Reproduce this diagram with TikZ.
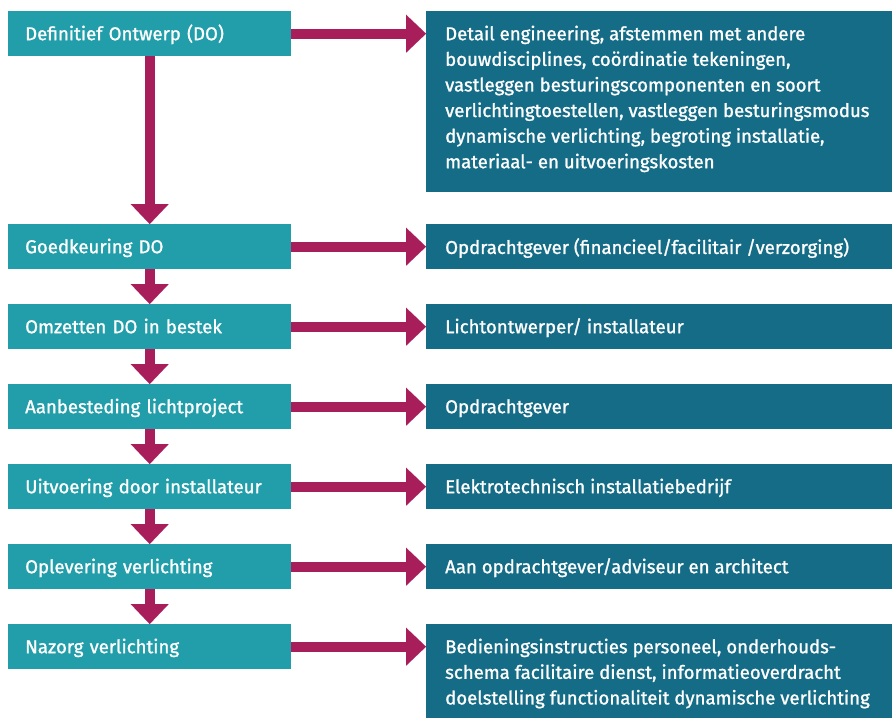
\documentclass[tikz,border=0pt]{standalone}
\usepackage{fontspec}
\setmainfont{Fira Sans}
\newfontfamily\medfont{Fira Sans}[FakeBold=1.2]
\usetikzlibrary{arrows.meta,calc}
\definecolor{lteal}{RGB}{33,158,169}
\definecolor{dteal}{RGB}{20,108,134}
\definecolor{magarrow}{RGB}{168,30,90}
\newcommand{\fsz}{\medfont\fontsize{18.6pt}{25.6pt}\selectfont}
\newcommand{\firstl}{\rule{0pt}{15pt}}
\tikzset{
  lbox/.style={fill=lteal, text=white, anchor=north west, minimum height=45pt,
    text width=249pt, inner xsep=17pt, inner ysep=0pt, text height=13pt, text depth=0pt,
    align=left, font=\fsz},
  rbox/.style={fill=dteal, anchor=north west, minimum width=466pt, inner sep=0pt},
  rtext/.style={text=white, anchor=north west, inner sep=0pt, align=left, font=\fsz},
  flowarrow/.style={draw=magarrow, line width=10pt,
    -{Triangle[width=38pt,length=20pt,line width=0.01pt,color=magarrow,fill=magarrow]}}
}
\begin{document}
\begin{tikzpicture}[x=1pt,y=-1pt]
\useasboundingbox (0,0) rectangle (892,718);
% left boxes
\node[lbox] (l1) at (8,11) {Definitief Ontwerp (DO)};
\node[lbox] (l2) at (8,224) {Goedkeuring DO};
\node[lbox] (l3) at (8,304) {Omzetten DO in bestek};
\node[lbox] (l4) at (8,384) {Aanbesteding lichtproject};
\node[lbox] (l5) at (8,464) {Uitvoering door installateur};
\node[lbox] (l6) at (8,544) {Oplevering verlichting};
\node[lbox] (l7) at (8,624) {Nazorg verlichting};
% right boxes
\node[rbox, minimum height=181pt] (r1) at (426,11) {};
\node[rbox, minimum height=45pt] (r2) at (426,224) {};
\node[rbox, minimum height=45pt] (r3) at (426,304) {};
\node[rbox, minimum height=45pt] (r4) at (426,384) {};
\node[rbox, minimum height=45pt] (r5) at (426,464) {};
\node[rbox, minimum height=45pt] (r6) at (426,544) {};
\node[rbox, minimum height=94pt] (r7) at (426,624) {};
% right texts (first baseline 29pt below box top)
\node[rtext] (t1) at ($(r1.north west)+(19,14)$) {\firstl Detail engineering, afstemmen met andere\\bouwdisciplines, coördinatie tekeningen,\\vastleggen besturingscomponenten en soort\\verlichtingtoestellen, vastleggen besturingsmodus\\dynamische verlichting, begroting installatie,\\materiaal- en uitvoeringskosten};
\node[rtext] (t2) at ($(r2.north west)+(19,14)$) {\firstl Opdrachtgever (financieel/facilitair /verzorging)};
\node[rtext] (t3) at ($(r3.north west)+(19,14)$) {\firstl Lichtontwerper/ installateur};
\node[rtext] (t4) at ($(r4.north west)+(19,14)$) {\firstl Opdrachtgever};
\node[rtext] (t5) at ($(r5.north west)+(19,14)$) {\firstl Elektrotechnisch installatiebedrijf};
\node[rtext] (t6) at ($(r6.north west)+(19,14)$) {\firstl Aan opdrachtgever/adviseur en architect};
\node[rtext] (t7) at ($(r7.north west)+(19,14)$) {\firstl Bedieningsinstructies personeel, onderhouds-\\schema facilitaire dienst, informatieoverdracht\\doelstelling functionaliteit dynamische verlichting};
% arrows
\foreach \i in {1,...,7}{
  \draw[flowarrow] (l\i.east) -- (l\i.east -| r\i.west);
}
\foreach \i/\j in {1/2,2/3,3/4,4/5,5/6,6/7}{
  \draw[flowarrow] (l\i.south) -- (l\j.north);
}
\end{tikzpicture}
\end{document}
